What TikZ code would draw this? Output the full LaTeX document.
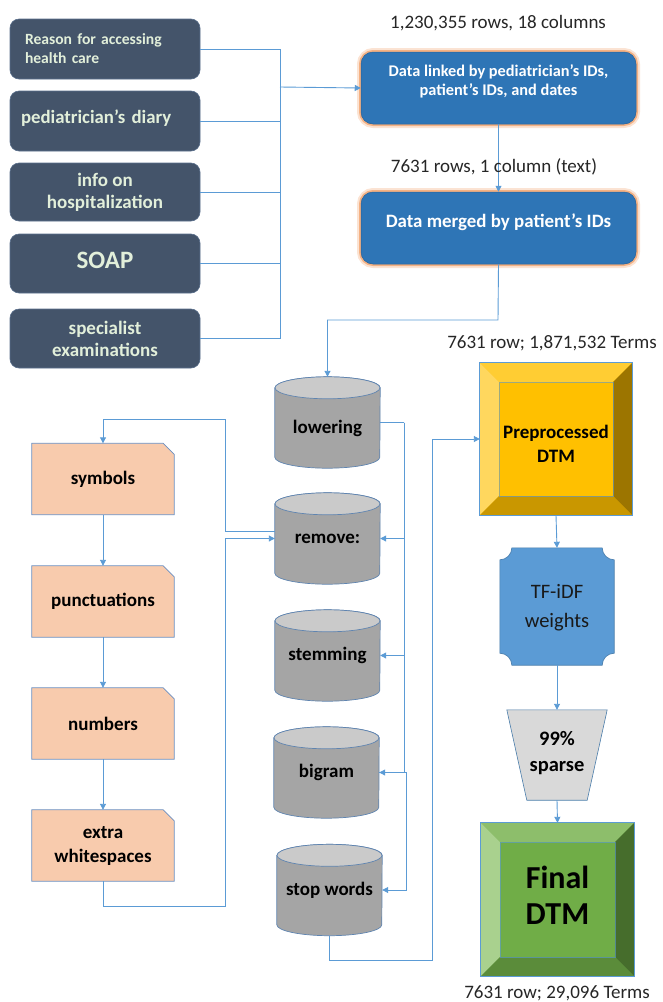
\documentclass[tikz,border=0pt]{standalone}
\usepackage{fontspec}
\setmainfont{Carlito}
\usetikzlibrary{arrows.meta,backgrounds}
\definecolor{slate}{HTML}{44546A}
\definecolor{slateedge}{HTML}{5A6F8C}
\definecolor{palegreen}{HTML}{E2EFDA}
\definecolor{lineblue}{HTML}{5B9BD5}
\definecolor{boxblue}{HTML}{2E75B6}
\definecolor{glowA}{HTML}{FBE3D3}
\definecolor{glowB}{HTML}{F4B183}
\definecolor{cylbody}{HTML}{A5A5A5}
\definecolor{cyltop}{HTML}{CACACA}
\definecolor{cyledge}{HTML}{5F84B0}
\definecolor{peach}{HTML}{F8CBAD}
\definecolor{peachedge}{HTML}{6A8EC0}
\definecolor{goldin}{HTML}{FFC000}
\definecolor{goldtop}{HTML}{FFCD33}
\definecolor{goldleft}{HTML}{FFD75E}
\definecolor{goldright}{HTML}{9C7500}
\definecolor{goldbot}{HTML}{C99700}
\definecolor{grin}{HTML}{70AD47}
\definecolor{grtop}{HTML}{8DBE6B}
\definecolor{grleft}{HTML}{A9D18E}
\definecolor{grright}{HTML}{466D2C}
\definecolor{grbot}{HTML}{5B8C3A}
\definecolor{tfblue}{HTML}{5B9BD5}
\definecolor{sparsegray}{HTML}{D9D9D9}
\newcommand\mycyl[1]{%
  \draw[cyledge, line width=0.7pt, fill=cylbody]
    ([yshift=-11pt]#1.north west) -- ([yshift=11pt]#1.south west)
    arc[start angle=180,end angle=360,x radius=52.5pt,y radius=11pt]
    -- ([yshift=-11pt]#1.north east)
    arc[start angle=0,end angle=180,x radius=52.5pt,y radius=11pt] -- cycle;
  \draw[cyledge, line width=0.7pt, fill=cyltop]
    ([yshift=-11pt]#1.north) ellipse[x radius=52.5pt,y radius=11pt];}
\newcommand\snipbox[1]{%
  \draw[peachedge, line width=0.8pt, fill=peach]
    (#1.south west) -- (#1.north west) -- ([xshift=-11pt]#1.north east)
    -- ([yshift=-11pt]#1.north east) -- (#1.south east) -- cycle;}
\newcommand\bevelbox[7]{%
  \fill[#7] (#1.north west) rectangle (#1.south east);
  \fill[#3] (#1.north west) -- (#1.north east) -- ([shift={(-#2,-#2)}]#1.north east) -- ([shift={(#2,-#2)}]#1.north west) -- cycle;
  \fill[#4] (#1.north west) -- (#1.south west) -- ([shift={(#2,#2)}]#1.south west) -- ([shift={(#2,-#2)}]#1.north west) -- cycle;
  \fill[#5] (#1.north east) -- (#1.south east) -- ([shift={(-#2,#2)}]#1.south east) -- ([shift={(-#2,-#2)}]#1.north east) -- cycle;
  \fill[#6] (#1.south west) -- (#1.south east) -- ([shift={(-#2,#2)}]#1.south east) -- ([shift={(#2,#2)}]#1.south west) -- cycle;
  \draw[lineblue, line width=0.4pt, opacity=0.6] ([shift={(#2,-#2)}]#1.north west) rectangle ([shift={(-#2,#2)}]#1.south east);
  \draw[lineblue, line width=0.7pt] (#1.north west) rectangle (#1.south east);}
\newcommand\plaque[2]{%
  \draw[lineblue!80!black, line width=0.6pt, fill=tfblue]
    ([xshift=#2]#1.north west) -- ([xshift=-#2]#1.north east)
    arc[start angle=180,end angle=270,radius=#2]
    -- ([yshift=#2]#1.south east)
    arc[start angle=90,end angle=180,radius=#2]
    -- ([xshift=#2]#1.south west)
    arc[start angle=0,end angle=90,radius=#2]
    -- ([yshift=-#2]#1.north west)
    arc[start angle=270,end angle=360,radius=#2] -- cycle;}
\begin{document}
\begin{tikzpicture}[x=1pt,y=1pt,
  conn/.style={draw=lineblue, line width=0.9pt},
  arr/.style={conn, -{Triangle[length=6pt,width=6pt]}},
  darkbox/.style={rectangle, rounded corners=9pt, fill=slate, draw=slateedge, line width=0.6pt,
    text=palegreen, minimum width=190pt, inner sep=0pt, align=center},
  bluebox/.style={rectangle, rounded corners=12pt, fill=boxblue, draw=boxblue!85!black, line width=0.5pt,
    preaction={draw=glowA, line width=8pt}, preaction={draw=glowB, line width=4pt},
    minimum width=275pt, minimum height=72pt, inner sep=0pt},
  txt/.style={inner sep=0pt, align=center},
  lbl/.style={font=\fontsize{19}{22}\selectfont, text=black!85, inner sep=0pt},
  cylnode/.style={minimum width=105pt, minimum height=91pt, inner sep=0pt, font=\fontsize{19}{22}\selectfont\bfseries, text=black},
  snipnode/.style={minimum width=142pt, minimum height=71pt, inner sep=0pt, align=center, font=\fontsize{19}{24}\selectfont\bfseries, text=black},
  shapenode/.style={inner sep=0pt}
]
\useasboundingbox (0,0) rectangle (663,-1002);

% left dark boxes
\node[darkbox, minimum height=60pt, text width=160pt, align=left, font=\fontsize{15.6}{19}\selectfont\bfseries] (b1) at (105,-49) {Reason for accessing\\health care};
\node[darkbox, minimum height=60pt, text width=168pt, align=left, font=\fontsize{18.8}{22}\selectfont\bfseries] (b2) at (105,-121) {\raisebox{3pt}[\height][\depth]{pediatrician’s diary}};
\node[darkbox, minimum height=58pt, font=\fontsize{19}{22}\selectfont\bfseries] (b3) at (105,-192) {info on\\hospitalization};
\node[darkbox, minimum height=59pt, font=\fontsize{25}{30}\selectfont\bfseries] (b4) at (105,-263.5) {\raisebox{3pt}[\height][\depth]{SOAP}};
\node[darkbox, minimum height=59pt, font=\fontsize{19}{22}\selectfont\bfseries] (b5) at (105,-338.5) {specialist\\examinations};

% right blue boxes
\node[bluebox] (d1) at (498.5,-88) {};
\node[txt, text=white, font=\fontsize{16.3}{19}\selectfont\bfseries] (d1t) at (498.5,-81.5) {Data linked by pediatrician’s IDs,\\patient’s IDs, and dates};
\node[bluebox] (d2) at (498.5,-228) {};
\node[txt, text=white, font=\fontsize{18.9}{22}\selectfont\bfseries] (d2t) at (498.5,-222) {Data merged by patient’s IDs};

\node[lbl] (l1) at (498,-23) {1,230,355 rows, 18 columns};
\node[lbl] (l2) at (552,-343) {7631 row; 1,871,532 Terms};
\node[lbl] (l4) at (557,-993) {7631 row; 29,096 Terms};

% bus
\coordinate (bus) at (280,-87);
\foreach \b in {b1,b2,b3,b4,b5}{\draw[conn] (\b.east) -| (bus);}
\draw[arr] (bus) -- (d1.west);
\draw[arr] (d1.south) -- (d2.north);
\node[lbl] (l3) at (494,-167) {7631 rows, 1 column (text)};

% cylinders
\node[cylnode] (lower) at (327.5,-422.5) {\raisebox{-6pt}[\height][\depth]{lowering}};
\node[cylnode] (remove) at (327.5,-538.5) {remove:};
\node[cylnode] (stem) at (327.5,-655.5) {stemming};
\node[cylnode] (bigram) at (326.5,-772.5) {bigram};
\node[cylnode] (stop) at (329.5,-890) {stop words};

% snipped boxes
\node[snipnode] (sym) at (103,-479) {symbols};
\node[snipnode] (punct) at (103,-601.5) {punctuations};
\node[snipnode] (num) at (103,-723.5) {numbers};
\node[snipnode] (extra) at (103,-845.5) {extra\\whitespaces};

% right column
\node[shapenode, minimum width=152pt, minimum height=152pt] (pre) at (556,-439) {};
\node[txt, font=\fontsize{19}{24}\selectfont\bfseries] (pret) at (556,-444) {Preprocessed\\DTM};
\node[shapenode, minimum width=114pt, minimum height=117pt] (tf) at (557,-606.5) {};
\node[txt, font=\fontsize{20.5}{29}\selectfont, text=black!90] (tft) at (557,-607.5) {TF-iDF\\weights};
\node[shapenode, minimum width=100pt, minimum height=90pt] (sparse) at (557,-755) {};
\node[txt, font=\fontsize{20.5}{26}\selectfont\bfseries] (sparset) at (557,-753) {99\%\\sparse};
\node[shapenode, minimum width=153pt, minimum height=153pt] (final) at (557.5,-899.5) {};
\node[txt, font=\fontsize{32}{36}\selectfont\bfseries] (finalt) at (557.5,-895) {Final\\DTM};

\begin{scope}[on background layer]
  \mycyl{lower}\mycyl{remove}\mycyl{stem}\mycyl{bigram}\mycyl{stop}
  \snipbox{sym}\snipbox{punct}\snipbox{num}\snipbox{extra}
  \bevelbox{pre}{19pt}{goldtop}{goldleft}{goldright}{goldbot}{goldin}
  \bevelbox{final}{19pt}{grtop}{grleft}{grright}{grbot}{grin}
  \plaque{tf}{12pt}
  \draw[lineblue!80!black, line width=0.6pt, fill=sparsegray]
    (sparse.north west) -- (sparse.north east) -- ([xshift=-20pt]sparse.south east)
    -- ([xshift=20pt]sparse.south west) -- cycle;
\end{scope}

% connectors
\coordinate (j1) at (498,-320);
\draw[arr] (d2.south) -- (j1) -| (lower.north);
\coordinate (lb) at (404,-422.5);
\draw[conn] (lower.east) -- (lb);
\draw[arr] (lb) |- (remove.east);
\draw[arr] (lb) |- (stem.east);
\draw[arr] (lb) |- (bigram.east);
\coordinate (bb) at (406,-772.5);
\draw[arr] (bigram.east) -- (bb) |- (stop.east);

\coordinate (k1) at (225,-419);
\draw[arr] ([yshift=7.5pt]remove.west) -| (k1) -| (sym.north);
\draw[arr] (sym) -- (punct);
\draw[arr] (punct) -- (num);
\draw[arr] (num) -- (extra);
\coordinate (k2) at (225,-906);
\draw[arr] (extra.south) |- (k2) |- (remove.west);

\coordinate (k3) at (432,-960);
\draw[arr] (stop.south) |- (k3) |- (pre.west);
\draw[arr] (pre.south) -- (tf.north);
\draw[arr] (tf.south) -- (sparse.north);
\draw[arr] (sparse.south) -- (final.north);
\end{tikzpicture}
\end{document}
